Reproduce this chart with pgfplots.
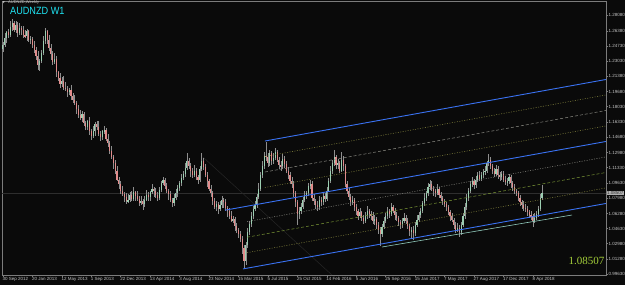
\documentclass[border=0pt]{standalone}
\usepackage{fontspec}
\setmainfont{Liberation Sans}
\newfontfamily\numserif{Liberation Serif}
\newfontfamily\dejavu{DejaVu Sans}
\newfontfamily\narrowsans[FakeStretch=0.87]{Liberation Sans}
\usepackage{pgfplots}
\usepackage{pgfplotstable}
\pgfplotsset{compat=1.18}
\definecolor{bgc}{HTML}{0A0A0A}
\definecolor{framec}{HTML}{7C7C7C}
\definecolor{labc}{HTML}{C4C4C4}
\definecolor{upc}{HTML}{9CCFB2}
\definecolor{dnc}{HTML}{E28C8C}
\definecolor{wickc}{HTML}{8E8E8E}
\definecolor{chanblue}{HTML}{3A72F2}
\definecolor{oliv}{HTML}{86863E}
\definecolor{olivg}{HTML}{7A9636}
\definecolor{greyd}{HTML}{8C8C84}
\definecolor{tealc}{HTML}{92CDBE}
\definecolor{cyant}{HTML}{1FE3F2}
\definecolor{ygreen}{HTML}{A6D13A}
\definecolor{bidc}{HTML}{2E2E2E}
\definecolor{diagc}{HTML}{262626}
\definecolor{boxc}{HTML}{B0B0B0}

\pgfplotstableread{
w o h l c
0 1.2440 1.2510 1.2400 1.2480
1 1.2480 1.2610 1.2460 1.2560
2 1.2560 1.2640 1.2500 1.2620
3 1.2620 1.2660 1.2560 1.2590
4 1.2590 1.2740 1.2570 1.2680
5 1.2680 1.2765 1.2630 1.2720
6 1.2720 1.2740 1.2620 1.2650
7 1.2650 1.2750 1.2610 1.2700
8 1.2700 1.2730 1.2570 1.2610
9 1.2610 1.2720 1.2590 1.2670
10 1.2670 1.2690 1.2590 1.2650
11 1.2650 1.2690 1.2560 1.2590
12 1.2590 1.2650 1.2560 1.2580
13 1.2580 1.2660 1.2530 1.2630
14 1.2630 1.2650 1.2510 1.2540
15 1.2540 1.2580 1.2490 1.2550
16 1.2550 1.2570 1.2450 1.2480
17 1.2480 1.2530 1.2390 1.2430
18 1.2430 1.2460 1.2320 1.2360
19 1.2360 1.2410 1.2210 1.2260
20 1.2260 1.2330 1.2200 1.2310
21 1.2310 1.2430 1.2280 1.2390
22 1.2390 1.2580 1.2370 1.2520
23 1.2520 1.2670 1.2490 1.2630
24 1.2630 1.2650 1.2490 1.2540
25 1.2540 1.2590 1.2420 1.2450
26 1.2450 1.2490 1.2320 1.2380
27 1.2380 1.2420 1.2260 1.2290
28 1.2290 1.2390 1.2270 1.2330
29 1.2330 1.2360 1.2130 1.2180
30 1.2180 1.2200 1.2090 1.2120
31 1.2120 1.2170 1.2010 1.2050
32 1.2050 1.2130 1.2020 1.2090
33 1.2090 1.2140 1.1990 1.2010
34 1.2010 1.2070 1.1970 1.2000
35 1.2000 1.2030 1.1910 1.1960
36 1.1960 1.2010 1.1930 1.1990
37 1.1990 1.2040 1.1880 1.1920
38 1.1920 1.1950 1.1840 1.1880
39 1.1880 1.1930 1.1820 1.1840
40 1.1840 1.1860 1.1720 1.1780
41 1.1780 1.1820 1.1680 1.1710
42 1.1710 1.1770 1.1660 1.1680
43 1.1680 1.1750 1.1630 1.1720
44 1.1720 1.1740 1.1590 1.1620
45 1.1620 1.1650 1.1550 1.1580
46 1.1580 1.1660 1.1550 1.1640
47 1.1640 1.1690 1.1490 1.1530
48 1.1530 1.1560 1.1440 1.1480
49 1.1480 1.1590 1.1460 1.1540
50 1.1540 1.1630 1.1480 1.1610
51 1.1610 1.1650 1.1550 1.1580
52 1.1580 1.1640 1.1480 1.1500
53 1.1500 1.1530 1.1420 1.1470
54 1.1470 1.1550 1.1440 1.1530
55 1.1530 1.1590 1.1500 1.1550
56 1.1550 1.1570 1.1420 1.1450
57 1.1450 1.1500 1.1360 1.1400
58 1.1400 1.1430 1.1280 1.1320
59 1.1320 1.1370 1.1230 1.1250
60 1.1250 1.1270 1.1120 1.1180
61 1.1180 1.1220 1.1060 1.1090
62 1.1090 1.1150 1.0980 1.1000
63 1.1000 1.1030 1.0900 1.0950
64 1.0950 1.0980 1.0840 1.0880
65 1.0880 1.0930 1.0820 1.0840
66 1.0840 1.0860 1.0750 1.0810
67 1.0810 1.0850 1.0730 1.0760
68 1.0760 1.0840 1.0740 1.0780
69 1.0780 1.0860 1.0750 1.0830
70 1.0830 1.0870 1.0760 1.0790
71 1.0790 1.0920 1.0770 1.0860
72 1.0860 1.0880 1.0760 1.0820
73 1.0820 1.0870 1.0760 1.0790
74 1.0790 1.0820 1.0710 1.0740
75 1.0740 1.0820 1.0720 1.0770
76 1.0770 1.0790 1.0670 1.0730
77 1.0730 1.0820 1.0700 1.0780
78 1.0780 1.0890 1.0760 1.0830
79 1.0830 1.0860 1.0760 1.0810
80 1.0810 1.0880 1.0770 1.0860
81 1.0860 1.0950 1.0840 1.0900
82 1.0900 1.0920 1.0810 1.0870
83 1.0870 1.0910 1.0800 1.0830
84 1.0830 1.0860 1.0770 1.0800
85 1.0800 1.0920 1.0780 1.0890
86 1.0890 1.0980 1.0860 1.0960
87 1.0960 1.1030 1.0940 1.1000
88 1.1000 1.1020 1.0900 1.0930
89 1.0930 1.0960 1.0850 1.0880
90 1.0880 1.0900 1.0780 1.0840
91 1.0840 1.0880 1.0750 1.0780
92 1.0780 1.0800 1.0700 1.0740
93 1.0740 1.0840 1.0710 1.0800
94 1.0800 1.0900 1.0780 1.0850
95 1.0850 1.0940 1.0810 1.0910
96 1.0910 1.0980 1.0880 1.0960
97 1.0960 1.1060 1.0930 1.1020
98 1.1020 1.1090 1.1000 1.1060
99 1.1060 1.1180 1.1030 1.1130
100 1.1130 1.1290 1.1110 1.1200
101 1.1200 1.1240 1.1120 1.1150
102 1.1150 1.1180 1.1030 1.1090
103 1.1090 1.1130 1.1020 1.1050
104 1.1050 1.1160 1.1030 1.1100
105 1.1100 1.1130 1.1000 1.1030
106 1.1030 1.1050 1.0950 1.1000
107 1.1000 1.1150 1.0970 1.1120
108 1.1120 1.1290 1.1090 1.1210
109 1.1210 1.1240 1.1110 1.1140
110 1.1140 1.1170 1.1030 1.1050
111 1.1050 1.1080 1.0920 1.0980
112 1.0980 1.1010 1.0870 1.0900
113 1.0900 1.0940 1.0810 1.0850
114 1.0850 1.0880 1.0720 1.0760
115 1.0760 1.0800 1.0680 1.0700
116 1.0700 1.0770 1.0660 1.0730
117 1.0730 1.0750 1.0620 1.0680
118 1.0680 1.0770 1.0660 1.0720
119 1.0720 1.0820 1.0690 1.0780
120 1.0780 1.0800 1.0690 1.0750
121 1.0750 1.0790 1.0660 1.0690
122 1.0690 1.0710 1.0590 1.0650
123 1.0650 1.0690 1.0570 1.0600
124 1.0600 1.0660 1.0530 1.0550
125 1.0550 1.0600 1.0520 1.0570
126 1.0570 1.0590 1.0440 1.0490
127 1.0490 1.0520 1.0410 1.0450
128 1.0450 1.0470 1.0360 1.0400
129 1.0400 1.0440 1.0310 1.0350
130 1.0350 1.0380 1.0180 1.0250
131 1.0250 1.0280 1.0030 1.0100
132 1.0100 1.0310 1.0060 1.0280
133 1.0280 1.0470 1.0250 1.0420
134 1.0420 1.0540 1.0390 1.0510
135 1.0510 1.0640 1.0480 1.0600
136 1.0600 1.0710 1.0570 1.0680
137 1.0680 1.0770 1.0650 1.0720
138 1.0720 1.0840 1.0690 1.0810
139 1.0810 1.0960 1.0790 1.0900
140 1.0900 1.1080 1.0880 1.1050
141 1.1050 1.1200 1.1020 1.1150
142 1.1150 1.1300 1.1120 1.1260
143 1.1260 1.1410 1.1200 1.1250
144 1.1250 1.1290 1.1140 1.1180
145 1.1180 1.1330 1.1150 1.1290
146 1.1290 1.1320 1.1160 1.1200
147 1.1200 1.1290 1.1170 1.1240
148 1.1240 1.1350 1.1220 1.1300
149 1.1300 1.1330 1.1190 1.1220
150 1.1220 1.1250 1.1120 1.1160
151 1.1160 1.1210 1.1100 1.1150
152 1.1150 1.1280 1.1120 1.1230
153 1.1230 1.1260 1.1130 1.1170
154 1.1170 1.1200 1.1070 1.1100
155 1.1100 1.1140 1.1010 1.1050
156 1.1050 1.1080 1.0950 1.0990
157 1.0990 1.1030 1.0910 1.0950
158 1.0950 1.0980 1.0810 1.0850
159 1.0850 1.0880 1.0700 1.0750
160 1.0750 1.0780 1.0500 1.0620
161 1.0620 1.0700 1.0570 1.0660
162 1.0660 1.0740 1.0620 1.0700
163 1.0700 1.0810 1.0680 1.0780
164 1.0780 1.0870 1.0750 1.0820
165 1.0820 1.0880 1.0790 1.0850
166 1.0850 1.0960 1.0820 1.0930
167 1.0930 1.1000 1.0900 1.0950
168 1.0950 1.0980 1.0760 1.0800
169 1.0800 1.0840 1.0720 1.0760
170 1.0760 1.0790 1.0680 1.0720
171 1.0720 1.0760 1.0650 1.0700
172 1.0700 1.0820 1.0670 1.0780
173 1.0780 1.0810 1.0710 1.0750
174 1.0750 1.0860 1.0720 1.0820
175 1.0820 1.0850 1.0750 1.0790
176 1.0790 1.0920 1.0770 1.0880
177 1.0880 1.1020 1.0860 1.0990
178 1.0990 1.1150 1.0960 1.1100
179 1.1100 1.1220 1.1060 1.1180
180 1.1180 1.1330 1.1150 1.1250
181 1.1250 1.1270 1.1120 1.1160
182 1.1160 1.1230 1.1120 1.1180
183 1.1180 1.1200 1.1070 1.1100
184 1.1100 1.1300 1.1080 1.1220
185 1.1220 1.1260 1.1100 1.1150
186 1.1150 1.1170 1.0920 1.0950
187 1.0950 1.0990 1.0840 1.0880
188 1.0880 1.0910 1.0780 1.0810
189 1.0810 1.0840 1.0710 1.0750
190 1.0750 1.0820 1.0720 1.0780
191 1.0780 1.0800 1.0650 1.0700
192 1.0700 1.0730 1.0610 1.0650
193 1.0650 1.0680 1.0560 1.0600
194 1.0600 1.0690 1.0580 1.0640
195 1.0640 1.0660 1.0540 1.0580
196 1.0580 1.0610 1.0510 1.0550
197 1.0550 1.0640 1.0520 1.0600
198 1.0600 1.0710 1.0570 1.0650
199 1.0650 1.0680 1.0580 1.0620
200 1.0620 1.0650 1.0560 1.0600
201 1.0600 1.0640 1.0510 1.0540
202 1.0540 1.0610 1.0500 1.0570
203 1.0570 1.0590 1.0460 1.0500
204 1.0500 1.0530 1.0400 1.0450
205 1.0450 1.0480 1.0270 1.0400
206 1.0400 1.0510 1.0370 1.0480
207 1.0480 1.0590 1.0460 1.0550
208 1.0550 1.0630 1.0520 1.0600
209 1.0600 1.0700 1.0570 1.0650
210 1.0650 1.0680 1.0580 1.0620
211 1.0620 1.0740 1.0600 1.0700
212 1.0700 1.0720 1.0630 1.0660
213 1.0660 1.0690 1.0560 1.0610
214 1.0610 1.0640 1.0550 1.0580
215 1.0580 1.0600 1.0490 1.0530
216 1.0530 1.0560 1.0460 1.0500
217 1.0500 1.0580 1.0470 1.0540
218 1.0540 1.0630 1.0520 1.0580
219 1.0580 1.0610 1.0510 1.0550
220 1.0550 1.0580 1.0460 1.0490
221 1.0490 1.0510 1.0380 1.0430
222 1.0430 1.0480 1.0350 1.0450
223 1.0450 1.0490 1.0340 1.0410
224 1.0410 1.0530 1.0380 1.0500
225 1.0500 1.0610 1.0480 1.0560
226 1.0560 1.0640 1.0530 1.0610
227 1.0610 1.0690 1.0580 1.0650
228 1.0650 1.0770 1.0630 1.0740
229 1.0740 1.0850 1.0710 1.0800
230 1.0800 1.0880 1.0770 1.0850
231 1.0850 1.0960 1.0820 1.0920
232 1.0920 1.1000 1.0890 1.0950
233 1.0950 1.0980 1.0870 1.0900
234 1.0900 1.0930 1.0820 1.0870
235 1.0870 1.0900 1.0810 1.0850
236 1.0850 1.0950 1.0830 1.0900
237 1.0900 1.0920 1.0800 1.0830
238 1.0830 1.0860 1.0760 1.0800
239 1.0800 1.0820 1.0720 1.0760
240 1.0760 1.0790 1.0700 1.0730
241 1.0730 1.0750 1.0650 1.0700
242 1.0700 1.0720 1.0610 1.0640
243 1.0640 1.0670 1.0550 1.0600
244 1.0600 1.0630 1.0530 1.0560
245 1.0560 1.0580 1.0460 1.0500
246 1.0500 1.0530 1.0410 1.0450
247 1.0450 1.0520 1.0420 1.0470
248 1.0470 1.0500 1.0370 1.0420
249 1.0420 1.0530 1.0390 1.0500
250 1.0500 1.0630 1.0480 1.0600
251 1.0600 1.0740 1.0570 1.0700
252 1.0700 1.0840 1.0670 1.0800
253 1.0800 1.0910 1.0770 1.0880
254 1.0880 1.0990 1.0850 1.0950
255 1.0950 1.1030 1.0920 1.0980
256 1.0980 1.1010 1.0900 1.0940
257 1.0940 1.1040 1.0910 1.1000
258 1.1000 1.1080 1.0970 1.1050
259 1.1050 1.1090 1.0980 1.1010
260 1.1010 1.1080 1.0980 1.1050
261 1.1050 1.1120 1.1020 1.1080
262 1.1080 1.1150 1.1050 1.1100
263 1.1100 1.1210 1.1070 1.1180
264 1.1180 1.1280 1.1150 1.1220
265 1.1220 1.1250 1.1120 1.1150
266 1.1150 1.1170 1.1060 1.1100
267 1.1100 1.1130 1.1030 1.1060
268 1.1060 1.1160 1.1040 1.1120
269 1.1120 1.1150 1.1010 1.1050
270 1.1050 1.1080 1.0990 1.1030
271 1.1030 1.1100 1.1000 1.1060
272 1.1060 1.1090 1.0970 1.1000
273 1.1000 1.1040 1.0940 1.0970
274 1.0970 1.1020 1.0930 1.0980
275 1.0980 1.1060 1.0950 1.1030
276 1.1030 1.1050 1.0910 1.0960
277 1.0960 1.0990 1.0880 1.0920
278 1.0920 1.0950 1.0840 1.0880
279 1.0880 1.0900 1.0820 1.0850
280 1.0850 1.0870 1.0760 1.0800
281 1.0800 1.0830 1.0710 1.0750
282 1.0750 1.0780 1.0680 1.0720
283 1.0720 1.0760 1.0650 1.0690
284 1.0690 1.0730 1.0640 1.0680
285 1.0680 1.0710 1.0600 1.0640
286 1.0640 1.0670 1.0580 1.0610
287 1.0610 1.0650 1.0560 1.0600
288 1.0600 1.0620 1.0480 1.0550
289 1.0550 1.0630 1.0520 1.0580
290 1.0580 1.0660 1.0560 1.0620
291 1.0620 1.0710 1.0590 1.0680
292 1.0680 1.0840 1.0650 1.0800
293 1.0800 1.0946 1.0780 1.0851
}\candles

\begin{document}
\begin{tikzpicture}
\fill[bgc] (0,0) rectangle (625pt,285pt);
\useasboundingbox (0,0) rectangle (625pt,285pt);
\begin{axis}[
  at={(2pt,10pt)}, anchor=south west,
  scale only axis, width=604pt, height=274pt,
  xmin=-0.5, xmax=327.76, ymin=0.99510, ymax=1.29653,
  clip=false,
  axis line style={draw=framec, line width=0.5pt},
  xtick={0,16,...,288},
  xticklabels={30 Sep 2012,20 Jan 2013,12 May 2013,1 Sep 2013,22 Dec 2013,13 Apr 2014,3 Aug 2014,23 Nov 2014,15 Mar 2015,5 Jul 2015,25 Oct 2015,14 Feb 2016,5 Jun 2016,25 Sep 2016,15 Jan 2017,7 May 2017,27 Aug 2017,17 Dec 2017,8 Apr 2018},
  ytick={0.9963,1.0128,1.0298,1.0463,1.0628,1.0798,1.0963,1.1133,1.1298,1.1468,1.1633,1.1803,1.1968,1.2138,1.2303,1.2473,1.2638,1.2808},
  yticklabels={0.99630,1.01280,1.02980,1.04630,1.06280,1.07980,1.09630,1.11330,1.12980,1.14680,1.16330,1.18030,1.19680,1.21380,1.23030,1.24730,1.26380,1.28080},
  xtick pos=bottom, ytick pos=right, yticklabel pos=right,
  tick align=outside, major tick length=2pt,
  tick style={draw=framec, line width=0.4pt},
  xticklabel style={font=\fontsize{4.5}{5}\selectfont, text=labc, anchor=north west, inner sep=0pt, xshift=-0.5pt},
  yticklabel style={font=\fontsize{4.5}{5}\selectfont, text=labc, anchor=west, inner sep=0pt, xshift=0.5pt},
]
% bid line and faint diagonal
\addplot[bidc, line width=0.5pt] coordinates {(-0.5,1.0851) (327.76,1.0851)};
\addplot[diagc, line width=0.5pt] coordinates {(108.7,1.1249) (178.8,0.9951)};

% wicks
\addplot[draw=none, mark=none, error bars/.cd, y dir=both, y explicit, error mark=none,
  error bar style={draw=wickc, line width=0.45pt, solid}]
  table[x=w, y expr={(\thisrow{h}+\thisrow{l})/2}, y error expr={(\thisrow{h}-\thisrow{l})/2}] {\candles};
% bull bodies
\addplot[draw=none, mark=none, restrict expr to domain={\thisrow{c}-\thisrow{o}}{0:1},
  error bars/.cd, y dir=both, y explicit, error mark=none,
  error bar style={draw=upc, line width=1.15pt, solid}]
  table[x=w, y expr={(\thisrow{o}+\thisrow{c})/2}, y error expr={max(abs(\thisrow{c}-\thisrow{o})/2,0.0003)}] {\candles};
% bear bodies
\addplot[draw=none, mark=none, restrict expr to domain={\thisrow{o}-\thisrow{c}}{0.00001:1},
  error bars/.cd, y dir=both, y explicit, error mark=none,
  error bar style={draw=dnc, line width=1.15pt, solid}]
  table[x=w, y expr={(\thisrow{o}+\thisrow{c})/2}, y error expr={max(abs(\thisrow{c}-\thisrow{o})/2,0.0003)}] {\candles};

% channel quarter lines (lower half)
\addplot[oliv, line width=0.5pt, dash pattern=on 1pt off 1.5pt] coordinates {(132.7,1.0197) (327.76,1.0909)};
\addplot[olivg, line width=0.5pt, dash pattern=on 3pt off 2pt] coordinates {(132.7,1.0367) (327.76,1.1079)};
\addplot[greyd, line width=0.5pt, dash pattern=on 1pt off 1.5pt] coordinates {(132.7,1.0538) (327.76,1.1250)};
% channel quarter lines (upper half)
\addplot[oliv, line width=0.5pt, dash pattern=on 1pt off 1.5pt] coordinates {(142.4,1.0914) (327.76,1.1591)};
\addplot[greyd, line width=0.5pt, dash pattern=on 3pt off 2pt] coordinates {(142.4,1.1084) (327.76,1.1761)};
\addplot[oliv, line width=0.5pt, dash pattern=on 1pt off 1.5pt] coordinates {(142.4,1.1255) (327.76,1.1932)};
% blue channel lines
\addplot[chanblue, line width=0.9pt] coordinates {(130.5,1.0018) (327.76,1.0738)};
\addplot[chanblue, line width=0.9pt] coordinates {(120.7,1.0664) (327.76,1.1420)};
\addplot[chanblue, line width=0.9pt] coordinates {(142.4,1.1425) (327.76,1.2102)};
% support trendline
\addplot[tealc, line width=0.6pt] coordinates {(206.0,1.0259) (309.3,1.0611)};

% current price box
\node[anchor=west, fill=boxc, text=black!80, font=\fontsize{4.5}{5}\selectfont, inner sep=0.6pt, xshift=0.3pt] at (axis cs:327.76,1.0851) {1.08507};
\end{axis}
\node[anchor=west, font=\dejavu\fontsize{3}{3}\selectfont, text=labc, inner sep=0pt] at (2.5pt,282.3pt) {▼};
\node[anchor=west, font=\fontsize{4}{4}\selectfont, text=labc, inner sep=0pt] at (8pt,282.3pt) {AUDNZD,Weekly};
\node[anchor=west, font=\narrowsans\fontsize{10.5}{11}\selectfont, text=cyant, inner sep=0pt] at (10pt,273.8pt) {AUDNZD W1};
\node[anchor=east, font=\numserif\fontsize{11}{12}\selectfont, text=ygreen, inner sep=0pt] at (604.5pt,24.5pt) {1.08507};
\end{tikzpicture}
\end{document}
